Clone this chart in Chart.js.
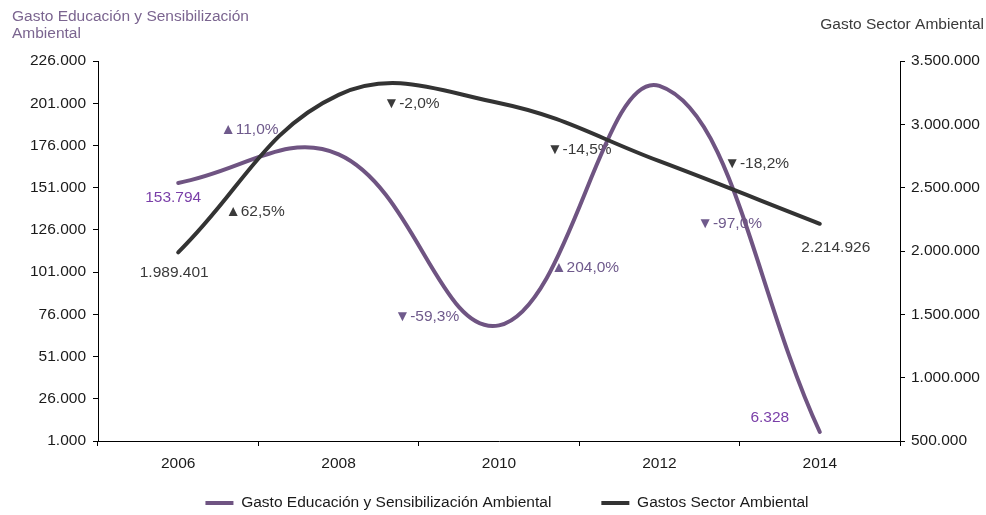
<!DOCTYPE html>
<html><head><meta charset="utf-8">
<script src="https://cdn.jsdelivr.net/npm/chart.js@4/dist/chart.umd.min.js"></script>
<style>html,body{margin:0;padding:0;background:#fff}canvas{display:block}</style>
</head><body>
<canvas id="c" width="986" height="515"></canvas>
<script>
// ---- data ----
const years = ['2006', '2008', '2010', '2012', '2014'];
const gastoEducacion = [153794, 170711, 69479, 211216, 6328];
const gastoSector = [1989401, 3232777, 3168121, 2708743, 2214926];
const leftTicks = [1000, 26000, 51000, 76000, 101000, 126000, 151000, 176000, 201000, 226000];
const rightTicks = [500000, 1000000, 1500000, 2000000, 2500000, 3000000, 3500000];
const leftTitle = ['Gasto Educación y Sensibilización', 'Ambiental'];
const rightTitle = 'Gasto Sector Ambiental';
const seriesNames = ['Gasto Educación y Sensibilización Ambiental', 'Gastos Sector Ambiental'];

// ---- style ----
const FONT = "'Liberation Sans', Arial, sans-serif";
const FS = 15.5;
const PURPLE = '#6f5482';
const PURPLE_TXT = '#7a3fa8';
const PURPLE_PCT = '#6f5a8c';
const TITLE_PURPLE = '#7b6590';
const DARK = '#333333';
const TXT = '#3a3a3a';
const LEGEND_CENTER_Y = 503;
const LEGEND_SHIFT_X = 14;

const fmt = n => Math.round(n).toString().replace(/\B(?=(\d{3})+(?!\d))/g, '.');
const pct = (a, b) => {
  const p = (b - a) / a * 100;
  return (p >= 0 ? '\u25B2' : '\u25BC') + p.toFixed(1).replace('.', ',') + '%';
};

// label placement (pixel offsets, style only)
const pctOffsets = {
  0: [[-38, -39], [-24, 77], [-28, 62], [-42, -35]],
  1: [[-33, 38], [-35, 5], [-32, 18], [-15, -29]]
};
const endOffsets = {
  0: [[-5, 15], [-50, -14]],
  1: [[-4, 20], [16, 24]]
};
const labelColors = { 0: [PURPLE_TXT, PURPLE_PCT], 1: [TXT, TXT] };

const labelPlugin = {
  id: 'labels',
  afterLayout(chart) {
    const lg = chart.legend;
    if (!lg) return;
    const shift = LEGEND_CENTER_Y - (lg.top + lg.options.labels.padding + FS / 2);
    lg.top += shift;
    lg.bottom += shift;
    lg.left += LEGEND_SHIFT_X;
    lg.right += LEGEND_SHIFT_X;
  },
  beforeDatasetsDraw(chart) {
    const ctx = chart.ctx;
    ctx.save();
    ctx.font = FS + 'px ' + FONT;
    ctx.textBaseline = 'middle';
    chart.data.datasets.forEach((ds, di) => {
      const meta = chart.getDatasetMeta(di);
      const pts = meta.data;
      const vals = ds.data;
      ctx.fillStyle = labelColors[di][1];
      ctx.textAlign = 'left';
      for (let i = 0; i < vals.length - 1; i++) {
        const mx = (pts[i].x + pts[i + 1].x) / 2;
        const my = (pts[i].y + pts[i + 1].y) / 2;
        const o = pctOffsets[di][i];
        ctx.fillText(pct(vals[i], vals[i + 1]), mx + o[0], my + o[1]);
      }
      ctx.fillStyle = labelColors[di][0];
      ctx.textAlign = 'center';
      const ends = [0, vals.length - 1];
      ends.forEach((idx, k) => {
        const o = endOffsets[di][k];
        ctx.fillText(fmt(vals[idx]), pts[idx].x + o[0], pts[idx].y + o[1]);
      });
    });
    ctx.restore();
  },
  afterDraw(chart) {
    const ctx = chart.ctx;
    ctx.save();
    ctx.font = FS + 'px ' + FONT;
    ctx.textBaseline = 'middle';
    ctx.fillStyle = TITLE_PURPLE;
    ctx.textAlign = 'left';
    ctx.fillText(leftTitle[0], 12, 17);
    ctx.fillText(leftTitle[1], 12, 34);
    ctx.fillStyle = TXT;
    ctx.textAlign = 'right';
    ctx.fillText(rightTitle, 984, 25);
    ctx.restore();
  }
};

new Chart(document.getElementById('c'), {
  type: 'line',
  data: {
    labels: years,
    datasets: [
      { label: seriesNames[0], data: gastoEducacion, yAxisID: 'y', borderColor: PURPLE, backgroundColor: PURPLE,
        borderWidth: 4, pointRadius: 0, tension: 0.4, order: 1, borderCapStyle: 'round' },
      { label: seriesNames[1], data: gastoSector, yAxisID: 'y1', borderColor: DARK, backgroundColor: DARK,
        borderWidth: 4, pointRadius: 0, tension: 0.4, order: 0, borderCapStyle: 'round' }
    ]
  },
  options: {
    responsive: false,
    animation: false,
    layout: { padding: { top: 61, left: 0, right: 0, bottom: -33.5 } },
    plugins: {
      tooltip: { enabled: false },
      legend: {
        position: 'bottom',
        labels: {
          font: { family: FONT, size: FS }, color: '#1a1a1a',
          boxWidth: 28, boxHeight: 4, padding: 50,
          generateLabels: (chart) => chart.data.datasets.map((ds, i) => ({
            text: ds.label, fillStyle: ds.borderColor, strokeStyle: ds.borderColor,
            lineWidth: 0, hidden: false, datasetIndex: i, fontColor: '#1a1a1a'
          }))
        }
      }
    },
    scales: {
      x: {
        offset: true,
        grid: { offset: true, drawOnChartArea: false, drawTicks: true, tickLength: 5, color: '#000' },
        border: { display: true, color: '#000', width: 1 },
        ticks: { font: { family: FONT, size: FS }, color: '#1a1a1a', padding: 8 },
        afterFit: s => { s.height = 32; }
      },
      y: {
        position: 'left', min: 1000, max: 226000,
        afterBuildTicks: s => { s.ticks = leftTicks.map(v => ({ value: v })); },
        grid: { drawOnChartArea: false, drawTicks: true, tickLength: 5, color: '#000' },
        border: { display: true, color: '#000', width: 1 },
        ticks: { font: { family: FONT, size: FS }, color: '#1a1a1a', padding: 7, callback: v => fmt(v) },
        afterFit: s => { s.width = 98; }
      },
      y1: {
        position: 'right', min: 500000, max: 3500000,
        afterBuildTicks: s => { s.ticks = rightTicks.map(v => ({ value: v })); },
        grid: { drawOnChartArea: false, drawTicks: true, tickLength: 5, color: '#000' },
        border: { display: true, color: '#000', width: 1 },
        ticks: { font: { family: FONT, size: FS }, color: '#1a1a1a', padding: 6, callback: v => fmt(v) },
        afterFit: s => { s.width = 86; }
      }
    }
  },
  plugins: [labelPlugin]
});
</script>
</body></html>
